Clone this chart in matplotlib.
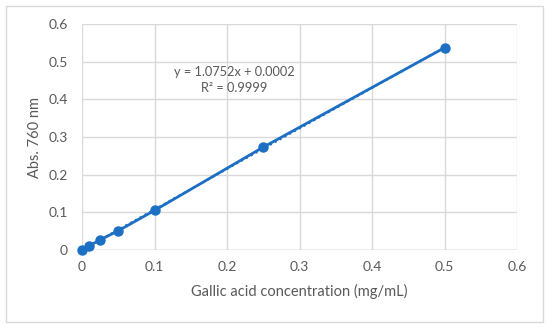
import matplotlib.pyplot as plt
import numpy as np

# calibration data
conc = [0, 0.01, 0.025, 0.05, 0.1, 0.25, 0.5]
absorb = [0, 0.011, 0.027, 0.051, 0.105, 0.273, 0.537]
slope = 1.0752
intercept = 0.0002
eq_text = "y = 1.0752x + 0.0002"
r2_text = "R² = 0.9999"
x_ticks = [0, 0.1, 0.2, 0.3, 0.4, 0.5, 0.6]
y_ticks = [0, 0.1, 0.2, 0.3, 0.4, 0.5, 0.6]

plt.rcParams['font.family'] = ['Lato', 'DejaVu Sans']
gray = '#595959'
blue = '#1c6fc3'

fig = plt.figure(figsize=(5.5, 3.28), dpi=100)
fig.patches.append(plt.Rectangle((6 / 550, 6 / 328), 537 / 550, 316 / 328, transform=fig.transFigure,
                                 fill=False, edgecolor='#d9d9d9', linewidth=1))
ax = fig.add_axes([82 / 550, 78 / 328, 435 / 550, 226 / 328])

ax.plot(conc, absorb, color=blue, linewidth=2, marker='o', markersize=6.5, zorder=3, clip_on=False)
fit_x = np.array([0, 0.5])
ax.plot(fit_x, slope * fit_x + intercept, color=blue, linewidth=1.5, linestyle=':', zorder=2)

ax.set_xlim(0, 0.6)
ax.set_ylim(0, 0.6)
ax.set_xticks(x_ticks)
ax.set_yticks(y_ticks)
ax.set_xticklabels([f"{t:g}" for t in x_ticks])
ax.set_yticklabels([f"{t:g}" for t in y_ticks])
ax.tick_params(length=0, labelsize=10, colors=gray, pad=8)
ax.tick_params(axis='y', pad=10)
for s in ax.spines.values():
    s.set_visible(False)
ax.grid(True, color='#d9d9d9', linewidth=1)
ax.axhline(0, color='#bfbfbf', linewidth=1, zorder=1)
ax.set_axisbelow(True)

ax.set_xlabel("Gallic acid concentration (mg/mL)", fontsize=10.5, color=gray, labelpad=8)
ax.set_ylabel("Abs. 760 nm", fontsize=10.5, color=gray, labelpad=5)

ax.text(0.2097, 0.4726, eq_text, ha='center', va='center', fontsize=9.2, color=gray)
ax.text(0.2097, 0.430, r2_text, ha='center', va='center', fontsize=9.2, color=gray)

fig.savefig("out.png", dpi=100)
